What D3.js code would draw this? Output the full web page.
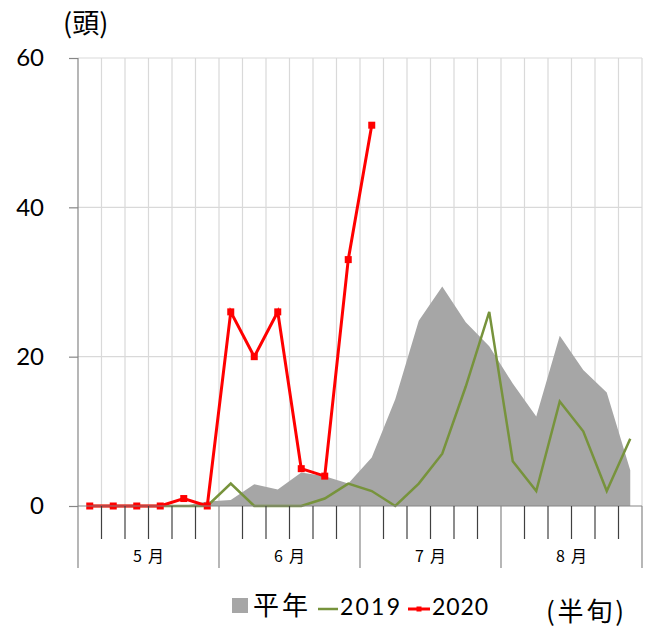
<!DOCTYPE html>
<html>
<head>
<meta charset="utf-8">
<script src="https://cdn.jsdelivr.net/npm/d3@7"></script>
<style>
  html, body { margin: 0; padding: 0; background: #fff; }
  svg { display: block; }
</style>
</head>
<body>
<svg id="chart" width="653" height="631"></svg>
<script>
// ---- data ----
const months = ["5月", "6月", "7月", "8月"];
const periodsPerMonth = 6;
const periods = months.flatMap(m => d3.range(1, periodsPerMonth + 1).map(i => m + i));
const normalYear = [0, 0, 0, 0, 0, 0.6, 0.8, 2.9, 2.2, 4.5, 4, 3, 6.5, 14.3, 24.8, 29.4, 24.6, 21.4, 16.4, 12, 22.8, 18.2, 15.2, 4.8];
const y2019 = [0, 0, 0, 0, 0, 0, 3, 0, 0, 0, 1, 3, 2, 0, 3, 7, 16, 26, 6, 2, 14, 10, 2, 9];
const y2020 = [0, 0, 0, 0, 1, 0, 26, 20, 26, 5, 4, 33, 51, null, null, null, null, null, null, null, null, null, null, null];
const yTicks = [0, 20, 40, 60];
const legendLabels = ["平年", "2019", "2020"];
const yUnit = "(頭)";
const xUnit = "(半旬)";

(function () {
const svg = d3.select("#chart");
const pL = 78, pR = 642, pT = 58, pB = 506;
const gray = "#a6a6a6", green = "#77933c", red = "#ff0000";
const cjk = "'Noto Sans CJK JP', sans-serif";
const latin = "Lato, 'Noto Sans CJK JP', sans-serif";

const x = d3.scaleBand().domain(periods).range([pL, pR]).paddingInner(0).paddingOuter(0);
const y = d3.scaleLinear().domain([0, 60]).range([pB, pT]);
const cx = p => x(p) + x.bandwidth() / 2;

// grid
const boundaries = periods.map(p => x(p)).concat([pR]);
svg.append("g").selectAll("line").data(boundaries.slice(1)).join("line")
  .attr("x1", d => d).attr("x2", d => d).attr("y1", pT).attr("y2", pB)
  .attr("stroke", "#d9d9d9").attr("stroke-width", 1.2);
svg.append("g").selectAll("line").data(yTicks.filter(t => t > 0)).join("line")
  .attr("x1", pL).attr("x2", pR).attr("y1", d => y(d)).attr("y2", d => y(d))
  .attr("stroke", "#d9d9d9").attr("stroke-width", 1.2);

// area (平年)
const area = d3.area().x((d, i) => cx(periods[i])).y0(y(0)).y1(d => y(d));
svg.append("path").datum(normalYear).attr("d", area).attr("fill", gray);

// 2019 line
const line = d3.line().defined(d => d != null).x((d, i) => cx(periods[i])).y(d => y(d));
svg.append("path").datum(y2019).attr("d", line)
  .attr("fill", "none").attr("stroke", green).attr("stroke-width", 2.5);

// 2020 line + markers
svg.append("path").datum(y2020).attr("d", line)
  .attr("fill", "none").attr("stroke", red).attr("stroke-width", 3);
svg.append("g").selectAll("rect").data(y2020.map((v, i) => ({v, p: periods[i]})).filter(d => d.v != null)).join("rect")
  .attr("x", d => cx(d.p) - 3.5).attr("y", d => y(d.v) - 3.5)
  .attr("width", 7).attr("height", 7).attr("fill", red);

// y axis
const yAxis = d3.axisLeft(y).tickValues(yTicks).tickSize(9).tickPadding(25);
const ya = svg.append("g").attr("transform", `translate(${pL},0)`).call(yAxis);
ya.select(".domain").remove();
ya.selectAll(".tick line").attr("stroke", "#868686").attr("stroke-width", 1.2);
ya.selectAll(".tick text").attr("font-size", 24).attr("font-family", latin).attr("fill", "#000");
svg.append("line").attr("x1", pL).attr("x2", pL).attr("y1", pT).attr("y2", 568)
  .attr("stroke", "#868686").attr("stroke-width", 1.2);

// x axis baseline + ticks
svg.append("line").attr("x1", pL).attr("x2", pR).attr("y1", pB).attr("y2", pB)
  .attr("stroke", "#868686").attr("stroke-width", 1.2);
svg.append("g").selectAll("line").data(boundaries.slice(1)).join("line")
  .attr("x1", d => d).attr("x2", d => d)
  .attr("y1", pB)
  .attr("y2", (d, i) => ((i + 1) % periodsPerMonth === 0) ? 568 : 539)
  .attr("stroke", (d, i) => ((i + 1) % periodsPerMonth === 0) ? "#868686" : "#404040")
  .attr("stroke-width", 1.2);
// month labels
svg.append("g").selectAll("text").data(months).join("text")
  .attr("x", (m, i) => x(periods[i * periodsPerMonth]) + 3 * x.bandwidth())
  .attr("y", 562)
  .attr("text-anchor", "middle")
  .attr("font-size", 16)
  .attr("font-family", cjk)
  .attr("textLength", 31).attr("lengthAdjust", "spacing")
  .text(d => d);

// units
svg.append("text").attr("x", 63).attr("y", 33).attr("font-size", 27)
  .attr("font-family", cjk).text(yUnit);
svg.append("text").attr("x", 546).attr("y", 621).attr("font-size", 26)
  .attr("font-family", cjk).attr("textLength", 78).attr("lengthAdjust", "spacing").text(xUnit);

// legend
const lg = svg.append("g");
lg.append("rect").attr("x", 232).attr("y", 598).attr("width", 16).attr("height", 15).attr("fill", gray);
lg.append("text").attr("x", 253).attr("y", 615).attr("font-size", 26)
  .attr("font-family", cjk).attr("textLength", 55).attr("lengthAdjust", "spacing").text(legendLabels[0]);
lg.append("line").attr("x1", 318).attr("x2", 338).attr("y1", 609).attr("y2", 609)
  .attr("stroke", green).attr("stroke-width", 2.5);
lg.append("text").attr("x", 340).attr("y", 614.5).attr("font-size", 23).attr("font-family", latin)
  .attr("textLength", 60).attr("lengthAdjust", "spacing").text(legendLabels[1]);
lg.append("line").attr("x1", 408).attr("x2", 430).attr("y1", 609).attr("y2", 609)
  .attr("stroke", red).attr("stroke-width", 3);
lg.append("rect").attr("x", 416.5).attr("y", 606.5).attr("width", 5).attr("height", 5).attr("fill", red);
lg.append("text").attr("x", 432).attr("y", 614.5).attr("font-size", 23).attr("font-family", latin)
  .attr("textLength", 56).attr("lengthAdjust", "spacing").text(legendLabels[2]);
})();
</script>
</body>
</html>
